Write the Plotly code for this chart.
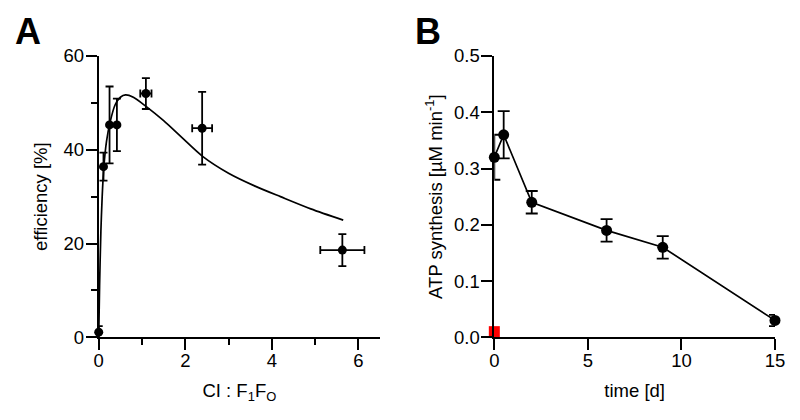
import plotly.graph_objects as go

# ---- Panel A data: efficiency vs CI:F1FO ratio ----
a_x = [0.0, 0.11, 0.25, 0.42, 1.09, 2.39, 5.63]
a_y = [1.1, 36.4, 45.3, 45.3, 52.0, 44.6, 18.6]
a_yerr = [1.3, 3.0, 8.2, 5.6, 3.3, 7.75, 3.4]
a_xerr = [0.0, 0.0, 0.0, 0.0, 0.13, 0.23, 0.51]

# fitted curve
fit_x = [0.0, 0.02, 0.05, 0.08, 0.12, 0.18, 0.26, 0.38, 0.5, 0.62, 0.8, 1.1,
         1.5, 1.9, 2.4, 3.0, 3.6, 4.2, 4.9, 5.65]
fit_y = [0.0, 11.0, 22.5, 30.0, 36.5, 41.8, 45.8, 49.6, 51.2, 51.7, 51.2, 49.2,
         46.2, 42.8, 38.6, 35.0, 32.3, 30.0, 27.4, 25.0]

# ---- Panel B data: ATP synthesis vs time ----
b_x = [0, 0.5, 2, 6, 9, 15]
b_y = [0.32, 0.36, 0.24, 0.19, 0.16, 0.03]
b_err = [0.04, 0.042, 0.02, 0.02, 0.02, 0.01]
ctrl_x = [0]
ctrl_y = [0.01]

a_xticks = [0, 2, 4, 6]
a_yticks = [0, 20, 40, 60]
b_xticks = [0, 5, 10, 15]
b_yticks = [0.0, 0.1, 0.2, 0.3, 0.4, 0.5]

FONT = "Liberation Sans, Arial, sans-serif"
BLACK = "black"
TICK_SIZE = 18.5
TITLE_SIZE = 18.5

fig = go.Figure()

fig.add_trace(go.Scatter(
    x=fit_x, y=fit_y, mode="lines", line=dict(color=BLACK, width=1.7, shape="spline", smoothing=0.8),
    xaxis="x", yaxis="y", showlegend=False, hoverinfo="skip"))

fig.add_trace(go.Scatter(
    x=a_x, y=a_y, mode="markers",
    marker=dict(color=BLACK, size=9),
    error_y=dict(type="data", array=a_yerr, color=BLACK, thickness=1.8, width=4),
    error_x=dict(type="data", array=a_xerr, color=BLACK, thickness=1.8, width=4),
    cliponaxis=False, xaxis="x", yaxis="y", showlegend=False))

fig.add_trace(go.Scatter(
    x=b_x, y=b_y, mode="lines+markers",
    line=dict(color=BLACK, width=1.7),
    marker=dict(color=BLACK, size=11),
    error_y=dict(type="data", array=b_err, color=BLACK, thickness=1.8, width=6),
    cliponaxis=False, xaxis="x2", yaxis="y2", showlegend=False))

fig.add_trace(go.Scatter(
    x=ctrl_x, y=ctrl_y, mode="markers",
    marker=dict(color="#ff0000", size=11, symbol="square"),
    cliponaxis=False, xaxis="x2", yaxis="y2", showlegend=False))

axis_common = dict(
    showline=True, linecolor=BLACK, linewidth=1.8, showgrid=False, zeroline=False,
    ticks="outside", ticklen=11, tickwidth=1.8, tickcolor=BLACK, automargin=False,
    tickfont=dict(family=FONT, size=TICK_SIZE, color=BLACK),
)

# the page body adds an 8px offset; domains compensate for it
fig.update_layout(
    width=800, height=420,
    margin=dict(l=0, r=0, t=0, b=0),
    paper_bgcolor="white", plot_bgcolor="white",
    font=dict(family=FONT, color=BLACK),
    xaxis=dict(domain=[0.1134, 0.465], range=[0, 6.5], tickvals=a_xticks, ticklabelstandoff=-5,
               minor=dict(ticks="outside", ticklen=6, tickwidth=1.8, tickcolor=BLACK, tickvals=[1, 3, 5]),
               title=dict(text="CI : F<sub>1</sub>F<sub>O</sub>", font=dict(family=FONT, size=TITLE_SIZE), standoff=14),
               anchor="y", **axis_common),
    yaxis=dict(domain=[0.2160, 0.8857], range=[0, 60], tickvals=a_yticks, ticklabelstandoff=-2,
               minor=dict(ticks="outside", ticklen=6, tickwidth=1.8, tickcolor=BLACK, tickvals=[10, 30, 50]),
               title=dict(text="efficiency [%]", font=dict(family=FONT, size=TITLE_SIZE), standoff=11),
               anchor="x", **axis_common),
    xaxis2=dict(domain=[0.6079, 0.95875], range=[0, 15], tickvals=b_xticks, ticklabelstandoff=-5,
                title=dict(text="time [d]", font=dict(family=FONT, size=TITLE_SIZE), standoff=14),
                anchor="y2", **axis_common),
    yaxis2=dict(domain=[0.2160, 0.8857], range=[0, 0.5], tickvals=b_yticks, tickformat=".1f",
                ticklabelstandoff=-2,
                title=dict(text="ATP synthesis [µM min<sup>-1</sup>]", font=dict(family=FONT, size=TITLE_SIZE), standoff=7),
                anchor="x2", **axis_common),
    annotations=[
        dict(text="<b>A</b>", x=0.025, y=0.945, xref="paper", yref="paper", showarrow=False,
             xanchor="center", yanchor="middle",
             font=dict(family=FONT, size=36, color=BLACK)),
        dict(text="<b>B</b>", x=0.525, y=0.945, xref="paper", yref="paper", showarrow=False,
             xanchor="center", yanchor="middle",
             font=dict(family=FONT, size=36, color=BLACK)),
    ],
)

fig.write_html("out.html")
